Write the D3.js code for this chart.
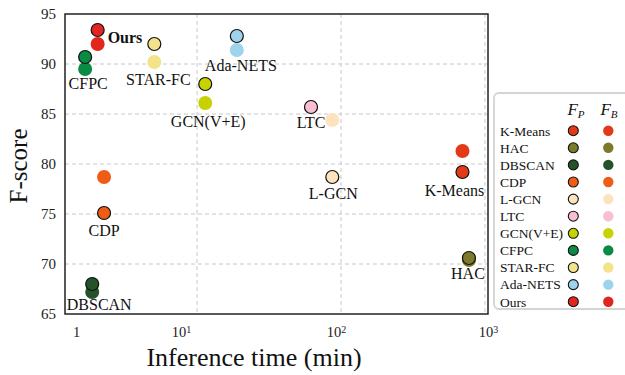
<!DOCTYPE html>
<html>
<head>
<meta charset="utf-8">
<script src="https://cdn.jsdelivr.net/npm/d3@7"></script>
<style>
  body { margin: 0; background: #fff; }
  text { font-family: "Liberation Serif", "Times New Roman", serif; }
</style>
</head>
<body>
<svg id="chart" width="625" height="375"></svg>
<script>
// data, legend order
const methods = ["K-Means", "HAC", "DBSCAN", "CDP", "L-GCN", "LTC", "GCN(V+E)", "CFPC", "STAR-FC", "Ada-NETS", "Ours"];
const colors  = ["#e23a18", "#7b7b2b", "#245229", "#ee5c15", "#fde3bd", "#f9bfd0", "#c6d300", "#0b8a43", "#f3e38b", "#9ed3ec", "#e0261e"];
const timeP   = [698, 774, 1.87, 2.26, 87.0, 61.9, 11.4, 1.67, 5.05, 18.9, 2.04];
const timeB   = [698, 774, 1.87, 2.26, 87.0, 61.9, 11.4, 1.67, 5.05, 18.9, 2.04];
const scoreP  = [79.2, 70.6, 68.0, 75.1, 78.7, 85.7, 88.0, 90.7, 92.0, 92.8, 93.4];
const scoreB  = [81.3, 70.4, 67.2, 78.7, 84.4, 85.7, 86.1, 89.5, 90.2, 91.4, 92.0];
const yTicks  = [65, 70, 75, 80, 85, 90, 95];
const xTicks  = [1, 10, 100, 1000];

const svg = d3.select("#chart");
const mLeft = 65, mRight = 488, mTop = 14, mBottom = 314;

const x = d3.scaleLog().domain([1.21, 1050]).range([mLeft, mRight]);
const y = d3.scaleLinear().domain([65, 95]).range([mBottom, mTop]);

// grid
svg.append("g").selectAll("line").data(yTicks.filter(d => d > 65 && d < 95)).enter()
  .append("line")
  .attr("x1", mLeft).attr("x2", mRight)
  .attr("y1", d => y(d)).attr("y2", d => y(d))
  .attr("stroke", "#c8c8c8").attr("stroke-dasharray", "4,3").attr("stroke-width", 1);
svg.append("g").selectAll("line").data(xTicks.slice(1)).enter()
  .append("line")
  .attr("x1", d => x(d)).attr("x2", d => x(d))
  .attr("y1", mTop).attr("y2", mBottom)
  .attr("stroke", "#c8c8c8").attr("stroke-dasharray", "4,3").attr("stroke-width", 1);

// axes
const yAxis = svg.append("g").attr("transform", `translate(${mLeft},0)`)
  .call(d3.axisLeft(y).tickValues(yTicks).tickSize(0).tickPadding(9));
yAxis.select(".domain").remove();
yAxis.selectAll("text").style("font-family", "Liberation Serif").style("font-size", "15px").attr("fill", "#222");

// x tick label shifts (original labels sit a bit off their gridlines)
const xShift = { 1: 23, 10: -16, 100: -5, 1000: 3 };
const xAxis = svg.append("g").attr("transform", `translate(0,${mBottom})`)
  .call(d3.axisBottom(x).tickValues(xTicks).tickSize(0).tickPadding(13).tickFormat(() => ""));
xAxis.select(".domain").remove();
xAxis.selectAll(".tick text").each(function(d) {
  const t = d3.select(this)
    .style("font-family", "Liberation Serif").style("font-size", "14.5px").attr("fill", "#222")
    .attr("dx", xShift[d]);
  const e = Math.round(Math.log10(d));
  if (e === 0) { t.text("1"); return; }
  t.append("tspan").text("10");
  t.append("tspan").attr("dy", "-0.4em").style("font-size", "10px").text(e);
});

// frame
svg.append("rect")
  .attr("x", mLeft).attr("y", mTop)
  .attr("width", mRight - mLeft).attr("height", mBottom - mTop)
  .attr("fill", "none").attr("stroke", "#222").attr("stroke-width", 1.5);

// axis titles
svg.append("text")
  .attr("x", 254).attr("y", 366).attr("text-anchor", "middle")
  .style("font-size", "26px").attr("fill", "#111")
  .text("Inference time (min)");
svg.append("text")
  .attr("transform", "translate(27,166) rotate(-90)").attr("text-anchor", "middle")
  .style("font-size", "25px").attr("fill", "#111")
  .text("F-score");

// points: F_B first (no outline), F_P on top (outlined)
const idx = d3.range(methods.length);
svg.append("g").selectAll("circle").data(idx).enter()
  .append("circle")
  .attr("cx", i => x(timeB[i])).attr("cy", i => y(scoreB[i]))
  .attr("r", 7).attr("fill", i => colors[i]);
svg.append("g").selectAll("circle").data(idx).enter()
  .append("circle")
  .attr("cx", i => x(timeP[i])).attr("cy", i => y(scoreP[i]))
  .attr("r", 6.5).attr("fill", i => colors[i])
  .attr("stroke", "#111").attr("stroke-width", 1.2);

// point labels, offset from the F_P marker
const labelPos = {
  "K-Means": [-8, 24, "middle"], "HAC": [-1, 21, "middle"], "DBSCAN": [7, 26, "middle"],
  "CDP": [0, 23, "middle"], "L-GCN": [1, 22, "middle"], "LTC": [0, 21, "middle"],
  "GCN(V+E)": [3, 43, "middle"], "CFPC": [3, 32, "middle"], "STAR-FC": [4, 41, "middle"],
  "Ada-NETS": [4, 35, "middle"], "Ours": [10, 13, "start"]
};
svg.append("g").selectAll("text").data(idx).enter()
  .append("text")
  .attr("x", i => x(timeP[i]) + labelPos[methods[i]][0])
  .attr("y", i => y(scoreP[i]) + labelPos[methods[i]][1])
  .attr("text-anchor", i => labelPos[methods[i]][2])
  .style("font-size", "16px")
  .style("font-weight", i => methods[i] === "Ours" ? "bold" : "normal")
  .attr("fill", "#111")
  .text(i => methods[i]);

// legend
const lg = svg.append("g");
lg.append("rect")
  .attr("x", 494).attr("y", 93).attr("width", 150).attr("height", 216)
  .attr("rx", 5).attr("fill", "#fff").attr("stroke", "#d4d4d4").attr("stroke-width", 1.8);
const hdr = [["P", 576], ["B", 609]];
hdr.forEach(h => {
  const t = lg.append("text").attr("x", h[1]).attr("y", 115).attr("text-anchor", "middle")
    .style("font-size", "17px").style("font-style", "italic").attr("fill", "#111");
  t.append("tspan").text("F");
  t.append("tspan").attr("dy", "0.3em").style("font-size", "11px").text(h[0]);
});
const rowY = i => 130.7 + i * 17.1;
lg.selectAll(".lt").data(idx).enter()
  .append("text")
  .attr("x", 500).attr("y", i => rowY(i) + 4.8)
  .style("font-size", "13.5px").attr("fill", "#111")
  .text(i => methods[i]);
lg.selectAll(".lp").data(idx).enter()
  .append("circle")
  .attr("cx", 573.3).attr("cy", i => rowY(i)).attr("r", 5)
  .attr("fill", i => colors[i]).attr("stroke", "#111").attr("stroke-width", 1.1);
lg.selectAll(".lb").data(idx).enter()
  .append("circle")
  .attr("cx", 608.3).attr("cy", i => rowY(i)).attr("r", 5.2)
  .attr("fill", i => colors[i]);
</script>
</body>
</html>
